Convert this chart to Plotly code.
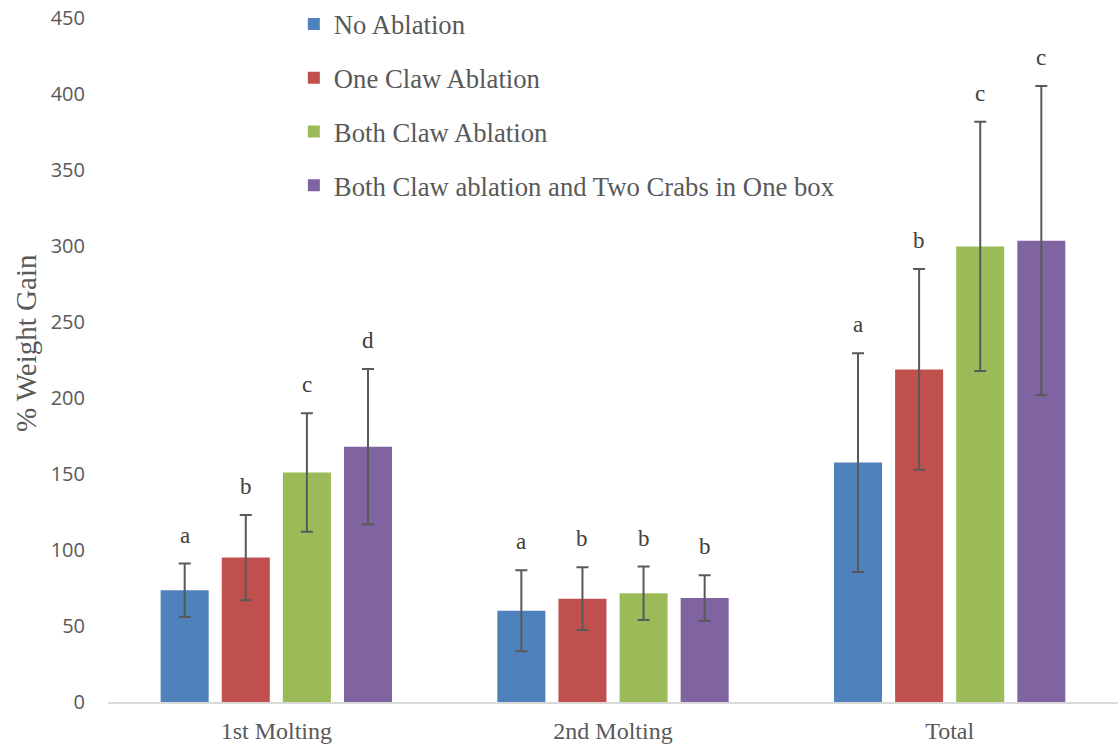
import plotly.graph_objects as go

categories = ["1st Molting", "2nd Molting", "Total"]
series_names = [
    "No Ablation",
    "One Claw Ablation",
    "Both Claw Ablation",
    "Both Claw ablation and Two Crabs in One box",
]
no_ablation = [73.5, 60, 157.5]
one_claw = [95, 68, 218.8]
both_claw = [151, 71.5, 299.7]
both_two_crabs = [168, 68.4, 303.5]

no_ablation_err = [17.6, 26.6, 72]
one_claw_err = [28, 20.7, 66]
both_claw_err = [39, 17.6, 82]
both_two_crabs_err = [51, 15, 101.7]

no_ablation_sig = ["a", "a", "a"]
one_claw_sig = ["b", "b", "b"]
both_claw_sig = ["c", "b", "c"]
both_two_crabs_sig = ["d", "b", "c"]

values = [no_ablation, one_claw, both_claw, both_two_crabs]
errors = [no_ablation_err, one_claw_err, both_claw_err, both_two_crabs_err]
letters = [no_ablation_sig, one_claw_sig, both_claw_sig, both_two_crabs_sig]
colors = ["#4F81BD", "#C0504D", "#9BBB59", "#8064A2"]

BARGAP = 0.274
BARGROUPGAP = 0.214

fig = go.Figure()
for i, (name, v, e, c) in enumerate(zip(series_names, values, errors, colors)):
    fig.add_trace(go.Bar(
        x=categories, y=v, name=name,
        marker=dict(color=c, line=dict(width=0)),
        error_y=dict(type="data", array=e, visible=True,
                     color="#595959", thickness=2, width=6),
        legendgroup=f"g{i}",
    ))

annotations = []
n = len(values)
group_w = 1 - BARGAP
slot = group_w / n
for k in range(n):
    off = -group_w / 2 + slot * (k + 0.5)
    for ci in range(len(categories)):
        annotations.append(dict(
            x=ci + off, y=values[k][ci] + errors[k][ci],
            xref="x", yref="y", text=letters[k][ci], showarrow=False,
            yanchor="bottom", yshift=14,
            font=dict(family="Liberation Serif", size=23, color="#404040"),
        ))

annotations.append(dict(
    text="% Weight Gain", textangle=-90, showarrow=False,
    xref="paper", yref="paper", x=-0.081, y=0.525,
    xanchor="center", yanchor="middle",
    font=dict(family="Liberation Serif", size=29, color="#595959"),
))

fig.update_layout(
    width=1119, height=751,
    margin=dict(l=108, r=1, t=18, b=49, autoexpand=False),
    paper_bgcolor="white", plot_bgcolor="white",
    barmode="group", bargap=BARGAP, bargroupgap=BARGROUPGAP,
    showlegend=True,
    legend=dict(
        x=0.184, y=1.026, xanchor="left", yanchor="top",
        font=dict(family="Liberation Serif", size=26.7, color="#595959"),
        traceorder="grouped", tracegroupgap=16,
        bgcolor="rgba(0,0,0,0)", itemclick=False,
    ),
    annotations=annotations,
    xaxis=dict(
        showline=True, linecolor="#D9D9D9", linewidth=2,
        showgrid=False, ticks="",
        tickfont=dict(family="Liberation Serif", size=24, color="#595959"),
        ticklabelstandoff=6,
    ),
    yaxis=dict(
        range=[0, 450], dtick=50, showgrid=False, zeroline=False,
        showline=False, ticks="",
        tickfont=dict(family="Open Sans", size=20, color="#595959"),
        ticklabelstandoff=22,
    ),
)

fig.write_html("out.html", config={"displayModeBar": False},
               post_script="document.body.style.margin='0';")
